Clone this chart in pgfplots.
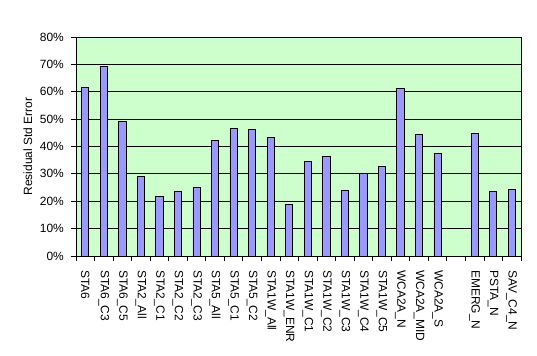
\documentclass[border=0pt]{standalone}
\usepackage{pgfplots}
\pgfplotsset{compat=1.18}
\usepackage{fontspec}
\setmainfont{Liberation Sans}
\definecolor{plotbg}{HTML}{CCFFCC}
\definecolor{barfill}{HTML}{9999FF}
\begin{document}
\begin{tikzpicture}
\begin{axis}[
  scale only axis,
  width=445bp, height=219bp,
  xmin=-0.5, xmax=23.5,
  ymin=0, ymax=80,
  ybar, bar width=0.39,
  axis background/.style={fill=plotbg},
  ytick={0,10,...,80},
  yticklabels={0\%,10\%,20\%,30\%,40\%,50\%,60\%,70\%,80\%},
  ymajorgrids, major grid style={black, line width=0.8bp},
  xtick={0,...,23},
  xticklabels={STA6,STA6\_C3,STA6\_C5,STA2\_All,STA2\_C1,STA2\_C2,STA2\_C3,STA5\_All,STA5\_C1,STA5\_C2,STA1W\_All,STA1W\_ENR,STA1W\_C1,STA1W\_C2,STA1W\_C3,STA1W\_C4,STA1W\_C5,WCA2A\_N,WCA2A\_MID,WCA2A\_S,{},EMERG\_N,PSTA\_N,SAV\_C4\_N},
  major x tick style={draw=none},
  minor xtick={-0.5,0.5,...,23.5},
  minor x tick style={black, line width=0.8bp},
  minor tick length=5bp,
  major tick length=5bp,
  tick align=outside,
  xtick pos=bottom, ytick pos=left,
  y tick style={black, line width=0.8bp},
  axis line style={black, line width=0.8bp},
  tick label style={font=\fontsize{12}{14}\selectfont, text=black},
  /pgf/number format/assume math mode=true,
  xticklabel style={rotate=-90, anchor=west, at={(axis cs:\tick,0)}, xshift=9bp, inner sep=0pt},
  yticklabel style={anchor=east, inner sep=0pt, xshift=-7bp},
  ylabel={Residual Std Error},
  ylabel style={font=\fontsize{12}{14}\selectfont, at={(axis description cs:-0.108,0.5)}, anchor=center},
]
\addplot[fill=barfill, draw=black, line width=0.8bp] coordinates {
 (0,61.6) (1,69.3) (2,49.2) (3,29.1) (4,21.8) (5,23.6) (6,25.1) (7,42.3)
 (8,46.6) (9,46.3) (10,43.4) (11,18.9) (12,34.6) (13,36.4) (14,24.0)
 (15,30.2) (16,32.8) (17,61.3) (18,44.5) (19,37.5) (21,44.8) (22,23.6) (23,24.4)
};
\end{axis}
\pgfresetboundingbox
\path[use as bounding box] (-76bp,-100bp) rectangle (461bp,256bp);
\end{tikzpicture}
\end{document}
